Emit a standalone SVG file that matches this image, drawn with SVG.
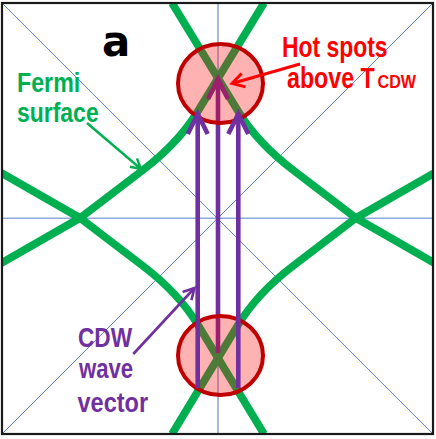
<svg xmlns="http://www.w3.org/2000/svg" width="436" height="439" viewBox="0 0 436 439">
  <style>
    .axis { stroke: #8faadc; stroke-width: 1.6; fill: none; }
    .diag { stroke: #5a86d0; stroke-width: 1; fill: none; }
    .fs { stroke: #00b050; stroke-width: 7.8; fill: none; stroke-linejoin: miter; stroke-miterlimit: 10; }
    .spot { fill: #ff0000; fill-opacity: 0.3; stroke: #c00000; stroke-width: 4; }
    .qvec { stroke: #7030a0; stroke-width: 4.6; fill: none; }
    .lbl { font-family: "Liberation Sans", Arial, sans-serif; font-weight: bold; }
  </style>
  <defs>
    <clipPath id="frameClip"><rect x="2" y="3" width="431" height="431"/></clipPath>
    <marker id="headQ" markerUnits="userSpaceOnUse" orient="auto" overflow="visible" markerWidth="1" markerHeight="1">
      <path d="M -20,-10 L 0,0 L -20,10" fill="none" stroke="#7030a0" stroke-width="4.6" stroke-linejoin="miter"/>
    </marker>
    <marker id="headG" markerUnits="userSpaceOnUse" orient="auto" overflow="visible" markerWidth="1" markerHeight="1">
      <path d="M -10,-5.5 L 0,0 L -10,5.5" fill="none" stroke="#00b050" stroke-width="2.4"/>
    </marker>
    <marker id="headR" markerUnits="userSpaceOnUse" orient="auto" overflow="visible" markerWidth="1" markerHeight="1">
      <path d="M -12,-7 L 0,0 L -12,7" fill="none" stroke="#ff0000" stroke-width="3"/>
    </marker>
    <marker id="headP" markerUnits="userSpaceOnUse" orient="auto" overflow="visible" markerWidth="1" markerHeight="1">
      <path d="M -11,-6 L 0,0 L -11,6" fill="none" stroke="#7030a0" stroke-width="2.6"/>
    </marker>
  </defs>

  <rect x="0" y="0" width="436" height="439" fill="#ffffff"/>

  <g id="grid">
    <line class="diag" x1="2" y1="3" x2="433" y2="434"/>
    <line class="diag" x1="433" y1="3" x2="2" y2="434"/>
    <line class="axis" x1="218" y1="3" x2="218" y2="434"/>
    <line class="axis" x1="2" y1="218.3" x2="433" y2="218.3"/>
  </g>

  <g id="fermi-surface" clip-path="url(#frameClip)">
    <path class="fs" d="M 264,3 L 198,111 Q 178.5,143 143,170 L 80,218 L 0,172"/>
    <path class="fs" d="M 172,3 L 238,111 Q 257.5,143 293,170 L 356,218 L 436,172"/>
    <path class="fs" d="M 264,434 L 198,325 Q 178.5,293 143,266 L 80,218 L 0,264"/>
    <path class="fs" d="M 172,434 L 238,325 Q 257.5,293 293,266 L 356,218 L 436,264"/>
  </g>

  <g id="connectors">
    <line id="q-mid" class="qvec" x1="218" y1="353" x2="218" y2="79" marker-end="url(#headQ)"/>
  </g>

  <g id="hotspot-top">
    <ellipse class="spot" cx="220.5" cy="83.5" rx="42.5" ry="39.5"/>
  </g>
  <g id="hotspot-bottom">
    <ellipse class="spot" cx="220.5" cy="355.5" rx="42.5" ry="39.5"/>
  </g>

  <g id="connectors-top">
    <line id="q-left" class="qvec" x1="197.7" y1="388" x2="197.7" y2="114" marker-end="url(#headQ)"/>
    <line id="q-right" class="qvec" x1="238.3" y1="388" x2="238.3" y2="114" marker-end="url(#headQ)"/>
    <line id="ptr-fermi" x1="87" y1="123" x2="141" y2="169" stroke="#00b050" stroke-width="2.4" marker-end="url(#headG)"/>
    <line id="ptr-hot" x1="300" y1="64" x2="232" y2="83.5" stroke="#ff0000" stroke-width="3" marker-end="url(#headR)"/>
    <line id="ptr-cdw" x1="133.3" y1="354" x2="194.5" y2="288" stroke="#7030a0" stroke-width="2.6" marker-end="url(#headP)"/>
  </g>

  <g id="label-a">
    <text x="102" y="55.5" font-family="'DejaVu Sans', 'Liberation Sans', sans-serif" font-weight="bold" font-size="42" fill="#000000">a</text>
  </g>
  <g id="label-fermi" class="lbl" fill="#00b050" font-size="28">
    <text transform="translate(17,91.7) scale(0.83,1)">Fermi</text>
    <text transform="translate(17,121.7) scale(0.82,1)">surface</text>
  </g>
  <g id="label-hot" class="lbl" fill="#ff0000" font-size="29">
    <text transform="translate(282,56.5) scale(0.79,1)">Hot spots</text>
    <text transform="translate(287,88.3) scale(0.8,1)">above T</text>
    <text transform="translate(377.5,88.3) scale(0.85,1)" font-size="19">CDW</text>
  </g>
  <g id="label-cdw" class="lbl" fill="#7030a0" font-size="28">
    <text transform="translate(78,346.7) scale(0.81,1)">CDW</text>
    <text transform="translate(79,378.3) scale(0.79,1)">wave</text>
    <text transform="translate(77.5,411.7) scale(0.84,1)">vector</text>
  </g>

  <g id="frame">
    <rect x="2" y="3" width="431" height="431" fill="none" stroke="#1a1a1a" stroke-width="2.2"/>
  </g>
</svg>
